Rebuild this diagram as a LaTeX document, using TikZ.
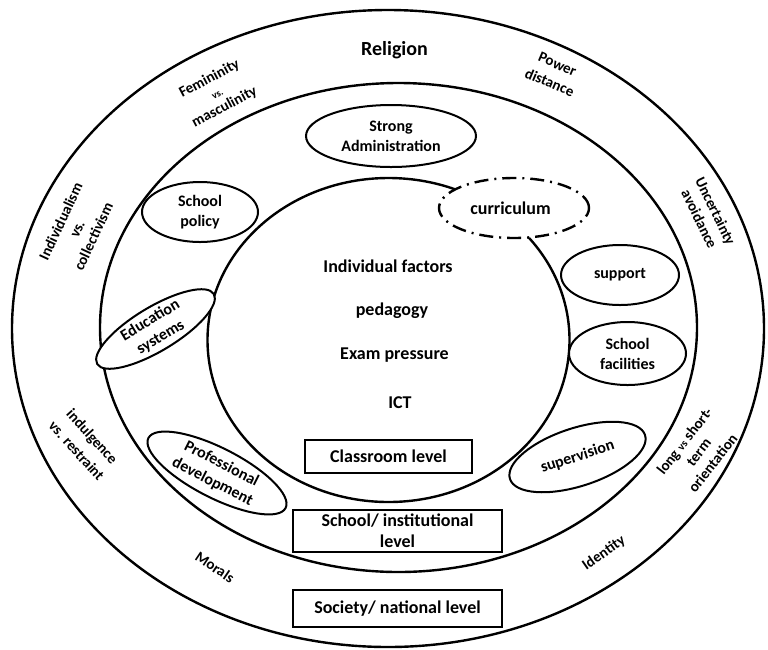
\documentclass[tikz,border=0pt]{standalone}
\usepackage{fontspec}
\setmainfont{Carlito}
\usetikzlibrary{shapes.geometric}
\begin{document}
\begin{tikzpicture}[x=1pt,y=-1pt,
  ring/.style={ellipse, draw=black, line width=2.4pt, inner sep=0pt},
  oval/.style={ellipse, draw=black, fill=white, line width=2pt, inner sep=0pt,
    font=\fontsize{16}{20}\selectfont\bfseries, align=center},
  dashoval/.style={oval, line width=2.4pt, dash pattern=on 14pt off 6pt on 2pt off 6pt},
  ovaltext/.style={font=\fontsize{16}{20}\selectfont\bfseries, align=center, inner sep=0pt},
  outertext/.style={font=\fontsize{15}{18}\selectfont\bfseries, align=center, inner sep=0pt},
  maintext/.style={font=\fontsize{18}{21}\selectfont\bfseries, inner sep=0pt, anchor=base},
  levelbox/.style={draw=black, line width=2.2pt, fill=white, inner sep=0pt,
    font=\fontsize{18}{21}\selectfont\bfseries, align=center},
]
\useasboundingbox (0,0) rectangle (768,649);
% rings
\node[ring, minimum width=752, minimum height=637] (society) at (388,328.5) {};
\node[ring, minimum width=597, minimum height=489] (school) at (398.5,327.5) {};
\node[ring, minimum width=362, minimum height=324] (classroom) at (388.5,340) {};

% school-level ovals
\node[oval, minimum width=170, minimum height=62] (admin) at (391,136) {Strong\\Administration};
\node[oval, minimum width=116, minimum height=60] (policy) at (200,212) {School\\policy};
\node[oval, minimum width=136, minimum height=44, rotate=31] (edu) at (155.5,329) {};
\node[ovaltext, rotate=31] (edutext) at (edu.center) {Education\\systems};
\node[oval, minimum width=154, minimum height=50, rotate=-27] (prof) at (217,473) {};
\node[ovaltext, rotate=-27] (proftext) at (prof.center) {Professional\\development};
\node[oval, minimum width=118, minimum height=60] (support) at (620,275) {support};
\node[oval, minimum width=117, minimum height=63] (facil) at (627.5,353.5) {School\\facilities};
\node[oval, minimum width=142, minimum height=58, rotate=18] (superv) at (577.5,457) {supervision};
\node[dashoval, minimum width=150, minimum height=60, font=\fontsize{18}{21}\selectfont\bfseries] (curric) at (514,208) {\hspace*{-7pt}curriculum};

% classroom factors
\node[maintext] (indiv) at (388,272) {Individual factors};
\node[maintext] (ped) at (392,315) {pedagogy};
\node[maintext] (exam) at (394.5,359) {Exam pressure};
\node[maintext] (ict) at (400,408) {ICT};

% level boxes
\node[levelbox, minimum width=167, minimum height=33] (lclass) at (388.5,456.5) {Classroom level};
\node[levelbox, minimum width=209, minimum height=42] (lschool) at (397.5,531) {School/ institutional\\level};
\node[levelbox, minimum width=209, minimum height=37] (lnation) at (397.5,608.5) {Society/ national level};

% society-level labels
\node[font=\fontsize{20}{24}\selectfont\bfseries, inner sep=0pt, anchor=base] (relig) at (394.5,55) {Religion};
\node[outertext, rotate=28] (femin) at (217,93) {Femininity\\[-2pt]{\fontsize{10}{12}\selectfont vs.}\\[-2pt]masculinity};
\node[outertext, rotate=-23, font=\fontsize{15}{20}\selectfont\bfseries] (power) at (553.5,73.5) {Power\\distance};
\node[outertext, rotate=-64] (uncert) at (707.5,215) {Uncertainty\\avoidance};
\node[outertext, rotate=65] (indivcol) at (77,229) {Individualism\\vs.\\collectivism};
\node[outertext, rotate=-48, font=\fontsize{15}{21}\selectfont\bfseries] (indulg) at (84.5,443.5) {indulgence\\vs. restraint};
\node[outertext, rotate=-34] (morals) at (215,567) {Morals};
\node[outertext, rotate=35] (ident) at (604,553) {Identity};
\node[outertext, rotate=52] (longt) at (698.5,452) {long {\fontsize{11}{12}\selectfont vs} short-\\term\\orientation};
\end{tikzpicture}
\end{document}
